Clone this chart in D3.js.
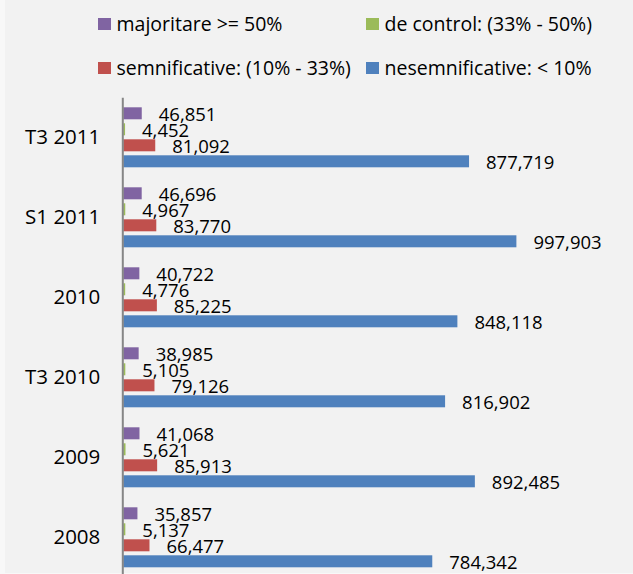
<!DOCTYPE html>
<html>
<head>
<meta charset="utf-8">
<script src="https://cdn.jsdelivr.net/npm/d3@7"></script>
<style>
  html, body { margin: 0; padding: 0; background: #f2f2f2; }
  svg { display: block; font-family: "Open Sans", sans-serif; }
</style>
</head>
<body>
<div class="chart"></div>
<script>
const categories = ["T3 2011", "S1 2011", "2010", "T3 2010", "2009", "2008"];
const seriesNames = [
    "majoritare >= 50%",
    "de control: (33% - 50%)",
    "semnificative: (10% - 33%)",
    "nesemnificative: < 10%"
];
const seriesColors = ["#8064A2", "#9BBB59", "#C0504D", "#4F81BD"];
const majoritare = [46851, 46696, 40722, 38985, 41068, 35857];
const deControl = [4452, 4967, 4776, 5105, 5621, 5137];
const semnificative = [81092, 83770, 85225, 79126, 85913, 66477];
const nesemnificative = [877719, 997903, 848118, 816902, 892485, 784342];

const seriesValues = [majoritare, deControl, semnificative, nesemnificative];

const width = 633, height = 574;
const plot = { left: 122.3, right: 595, top: 97.3, bottom: 577.3 };

// build rows: one per bar
const data = [];
categories.forEach((c, i) => {
    seriesNames.forEach((s, j) => {
        data.push({ cat: c, series: s, value: seriesValues[j][i], color: seriesColors[j] });
    });
});

const svg = d3.select(".chart")
    .append("svg")
    .attr("width", width)
    .attr("height", height);

// background, with the lighter frame edge on the left and bottom
svg.append("rect")
    .attr("width", width)
    .attr("height", height)
    .attr("fill", "#f8f8f8");
svg.append("rect")
    .attr("x", 5)
    .attr("width", width - 5)
    .attr("height", height - 1)
    .attr("fill", "#f2f2f2");

const x = d3.scaleLinear()
    .domain([0, 1200000])
    .range([plot.left, plot.right]);

const y = d3.scaleBand()
    .domain(categories)
    .range([plot.top, plot.bottom]);

const ySub = d3.scaleBand()
    .domain(seriesNames)
    .range([8, 72])
    .paddingInner(0.25)
    .paddingOuter(0.125);

// bars
svg.selectAll("rect.bar")
    .data(data)
    .join("rect")
    .attr("class", "bar")
    .attr("x", x(0) + 1)
    .attr("y", d => y(d.cat) + ySub(d.series))
    .attr("width", d => x(d.value) - x(0))
    .attr("height", ySub.bandwidth())
    .attr("fill", d => d.color);

// data labels
svg.selectAll("text.lbl")
    .data(data)
    .join("text")
    .attr("class", "lbl")
    .attr("x", d => x(d.value) + 18)
    .attr("y", d => y(d.cat) + ySub(d.series) + ySub.bandwidth() / 2 + 1)
    .attr("dy", "0.35em")
    .attr("font-size", 18.5)
    .attr("fill", "#000")
    .text(d => d3.format(",")(d.value));

// category axis
const yAxis = svg.append("g")
    .attr("transform", `translate(${plot.left},0)`)
    .call(d3.axisLeft(y).tickSize(0).tickPadding(22));

yAxis.select(".domain")
    .attr("stroke", "#868686")
    .attr("stroke-width", 2);

yAxis.selectAll("text")
    .attr("font-family", "Open Sans, sans-serif")
    .attr("font-size", 20.5)
    .attr("fill", "#000");

// legend
const legendPos = [[98, 24], [366, 24], [98, 68], [366, 68]];
const legend = svg.append("g");
seriesNames.forEach((s, i) => {
    const g = legend.append("g")
        .attr("transform", `translate(${legendPos[i][0]},${legendPos[i][1]})`);
    g.append("rect")
        .attr("x", 0)
        .attr("y", -6)
        .attr("width", 13)
        .attr("height", 12)
        .attr("fill", seriesColors[i]);
    g.append("text")
        .attr("x", 18.5)
        .attr("y", 0)
        .attr("dy", "0.35em")
        .attr("font-size", 19.5)
        .attr("fill", "#000")
        .text(s);
});
</script>
</body>
</html>
